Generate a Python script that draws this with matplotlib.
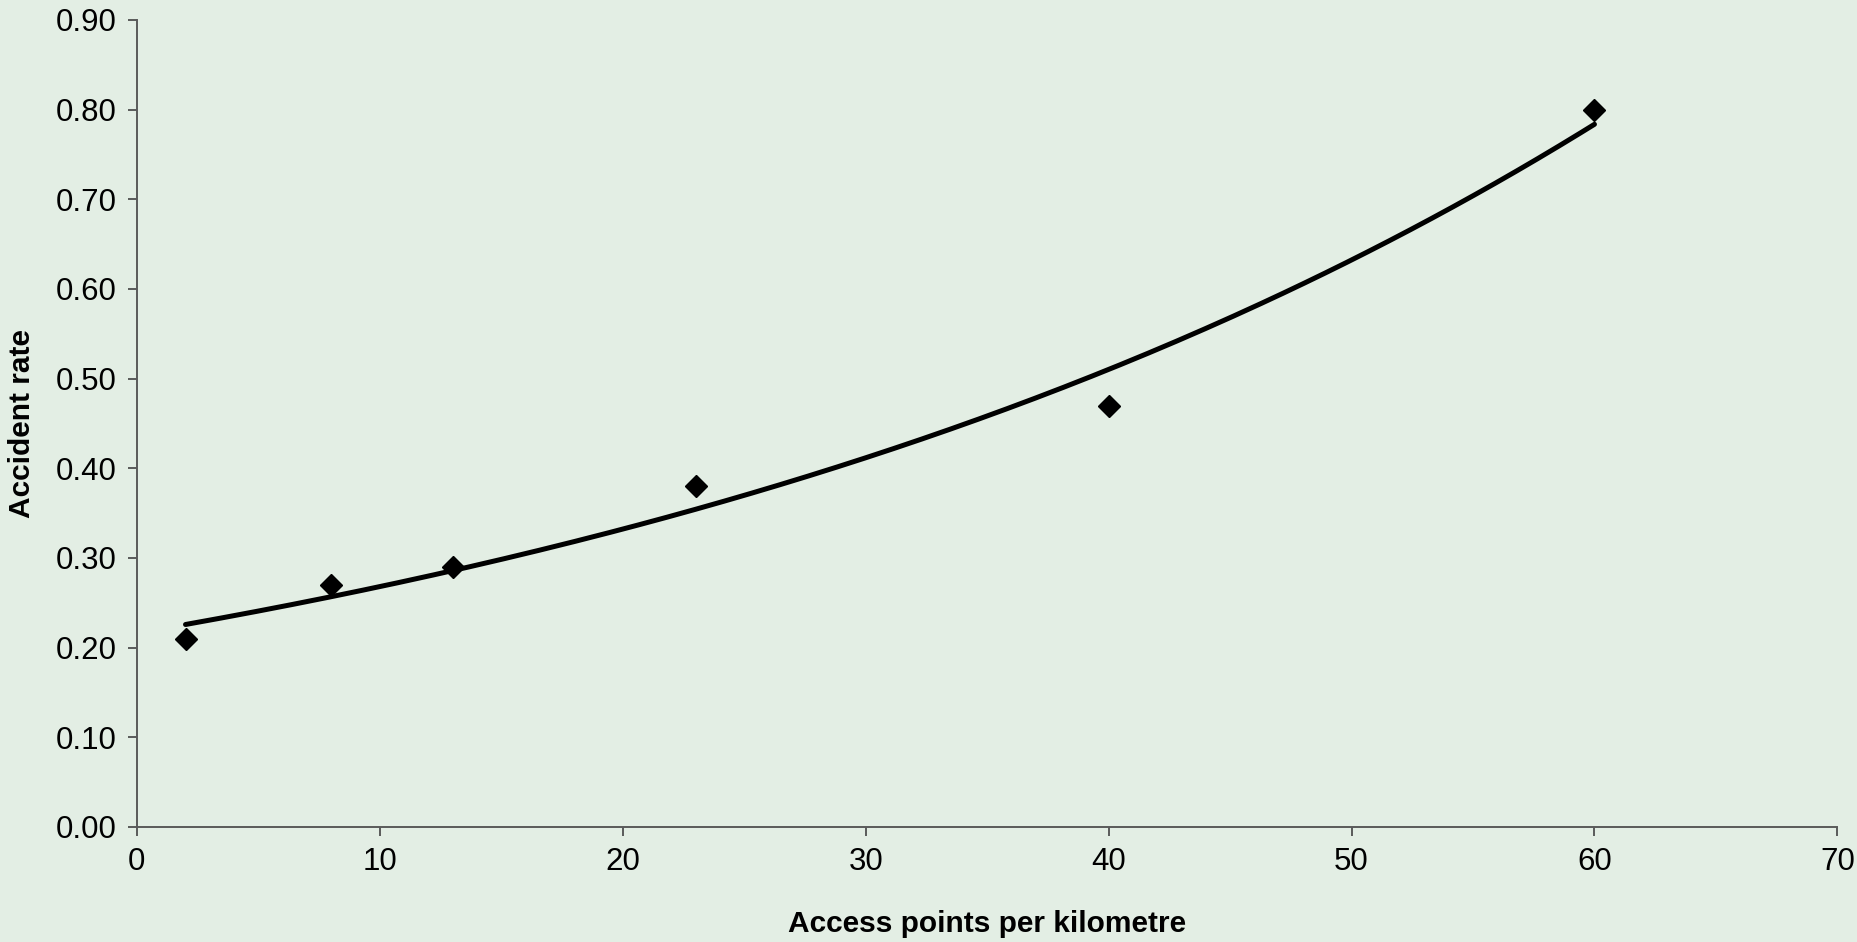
import numpy as np
import matplotlib

matplotlib.use("Agg")
import matplotlib.pyplot as plt

BG = "#e3eee4"
AXIS_GREY = "#5a5a5a"

access_points = [2, 8, 13, 23, 40, 60]
accident_rate = [0.21, 0.27, 0.29, 0.38, 0.47, 0.80]

x_ticks = [0, 10, 20, 30, 40, 50, 60, 70]
y_ticks = [0.0, 0.1, 0.2, 0.3, 0.4, 0.5, 0.6, 0.7, 0.8, 0.9]

plt.rcParams["font.family"] = ["Liberation Sans", "DejaVu Sans"]

fig = plt.figure(figsize=(18.58, 9.42), dpi=100, facecolor=BG)
ax = fig.add_axes([0.0737, 0.1221, 0.9152, 0.8567], facecolor=BG)

# exponential trendline fitted on log(y)
x = np.asarray(access_points, dtype=float)
y = np.asarray(accident_rate, dtype=float)
b, log_a = np.polyfit(x, np.log(y), 1)
xs = np.linspace(x.min(), x.max(), 200)
ax.plot(xs, np.exp(log_a) * np.exp(b * xs), color="black", linewidth=3.6,
        solid_capstyle="round", zorder=2)

ax.plot(x, y, linestyle="none", marker="D", markersize=11,
        color="black", zorder=3)

ax.set_xlim(0, 70)
ax.set_ylim(0, 0.9)
ax.set_xticks(x_ticks)
ax.set_yticks(y_ticks)
ax.set_yticklabels([f"{v:.2f}" for v in y_ticks])

for side in ("top", "right"):
    ax.spines[side].set_visible(False)
for side in ("left", "bottom"):
    ax.spines[side].set_color(AXIS_GREY)
    ax.spines[side].set_linewidth(1.4)

ax.tick_params(axis="both", direction="out", length=6.5, width=1.4,
               color=AXIS_GREY, labelsize=22.5, labelcolor="black", pad=8)

ax.set_xlabel("Access points per kilometre", fontsize=21.5, fontweight="bold", labelpad=24)
ax.set_ylabel("Accident rate", fontsize=21.5, fontweight="bold", labelpad=14)

fig.savefig("out.png", dpi=100, facecolor=BG)
